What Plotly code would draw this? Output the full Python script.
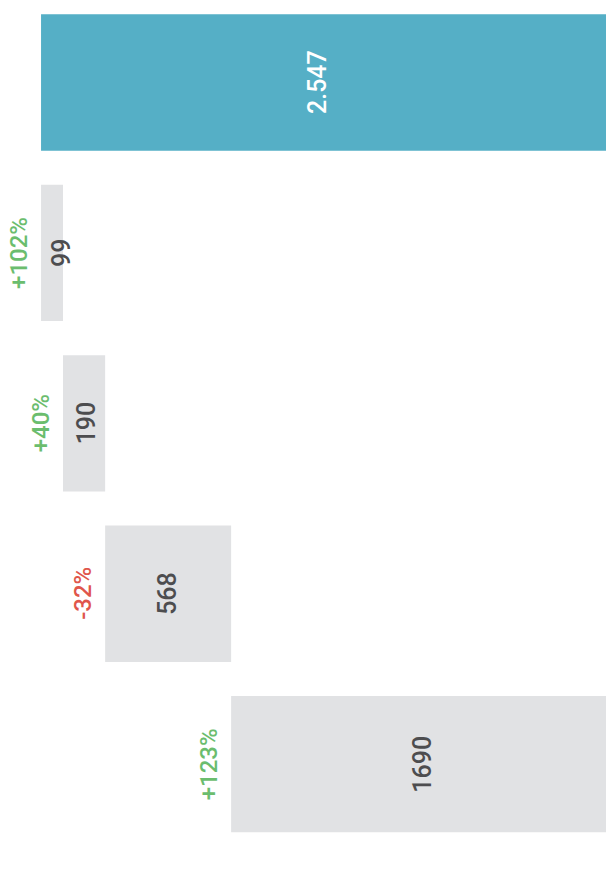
import plotly.graph_objects as go

# Breakdown of the total into its contributing parts
categories = ["Total", "A", "B", "C", "D"]
total_value = 2547
part_values = [99, 190, 568, 1690]
changes_pct = [102, 40, -32, 123]

TOTAL_COLOR = "#55afc6"
PART_COLOR = "#e1e2e4"
LABEL_DARK = "#4d4d4f"
UP_COLOR = "#6bbd6e"
DOWN_COLOR = "#e0564b"
FONT = "Roboto, sans-serif"

# Stacked offsets so each part starts where the previous one ends
bases = []
running = 0
for v in part_values:
    bases.append(running)
    running += v

x_vals = [total_value] + part_values
base_vals = [0] + bases
colors = [TOTAL_COLOR] + [PART_COLOR] * len(part_values)
text_colors = ["white"] + [LABEL_DARK] * len(part_values)
labels = [f"{total_value:,}".replace(",", ".")] + [str(v) for v in part_values]
label_shift = [-6, 10, 2, 0, 4]

fig = go.Figure(
    go.Bar(
        y=categories,
        x=x_vals,
        base=base_vals,
        orientation="h",
        width=0.8,
        marker=dict(color=colors, line=dict(width=0)),
        hoverinfo="skip",
    )
)

# Value labels, centred on each bar and reading upwards
for cat, b, v, lab, col, sh in zip(categories, base_vals, x_vals, labels, text_colors, label_shift):
    fig.add_annotation(
        x=b + v / 2,
        y=cat,
        text=lab,
        showarrow=False,
        textangle=-90,
        xanchor="center",
        yanchor="middle",
        xshift=sh,
        font=dict(family=FONT, size=25, weight=500, color=col),
    )

# Percentage change labels to the left of each part
for cat, b, pct in zip(categories[1:], bases, changes_pct):
    sign = "+" if pct >= 0 else ""
    fig.add_annotation(
        x=b,
        y=cat,
        text=f"{sign}{pct}%",
        showarrow=False,
        textangle=-90,
        xanchor="right",
        yanchor="middle",
        xshift=-6,
        font=dict(family=FONT, size=24, weight=500, color=UP_COLOR if pct >= 0 else DOWN_COLOR),
    )

fig.update_layout(
    width=606,
    height=872,
    margin=dict(l=0, r=0, t=0, b=0),
    paper_bgcolor="white",
    plot_bgcolor="white",
    showlegend=False,
    xaxis=dict(range=[-185, total_value], visible=False, fixedrange=True),
    yaxis=dict(
        type="category",
        categoryorder="array",
        categoryarray=categories,
        range=[4.633, -0.484],
        visible=False,
        fixedrange=True,
    ),
)

fig.write_html("out.html")
